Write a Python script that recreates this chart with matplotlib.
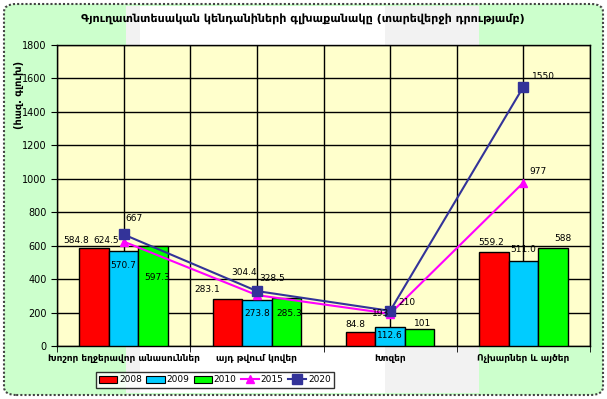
import matplotlib
matplotlib.use("Agg")
import matplotlib.pyplot as plt
from matplotlib.patches import FancyBboxPatch, Rectangle, Patch
from matplotlib.lines import Line2D
import numpy as np

title = "Գյուղատնտեսական կենդանիների գլխաքանակը (տարեվերջի դրությամբ)"
y_label = "(հազ. գլուխ)"
categories = ["Խոշոր եղջերավոր անասուններ", "այդ թվում կովեր", "Խոզեր", "Ոչխարներ և այծեր"]
bar_years = ["2008", "2009", "2010"]
v2008 = [584.8, 283.1, 84.8, 559.2]
v2009 = [570.7, 273.8, 112.6, 511.0]
v2010 = [597.3, 285.3, 101, 588]
line_years = ["2015", "2020"]
v2015 = [624.5, 304.4, 193, 977]
v2020 = [667, 328.5, 210, 1550]
lbl2008 = ["584.8", "283.1", "84.8", "559.2"]
lbl2009 = ["570.7", "273.8", "112.6", "511.0"]
lbl2010 = ["597.3", "285.3", "101", "588"]
lbl2015 = ["624.5", "304.4", "193", "977"]
lbl2020 = ["667", "328.5", "210", "1550"]

# label offsets in pixels (placed by hand in the original)
off2008 = [(-18, 8), (-20, 9), (-5, 7), (-3, 10)]
off2009 = [(0, -15), (0, -13), (0, -8), (0, 11)]
off2010 = [(4, -31), (3, -15), (3, 6), (10, 9)]
off2015 = [(-17, 1), (-13, 23), (-10, 0), (15, 11)]
off2020 = [(10, 16), (15, 13), (17, 8), (20, 10)]

bar_colors = ["#FF0000", "#00CCFF", "#00FF00"]
c2015 = "#FF00FF"
c2020 = "#333399"

fig = plt.figure(figsize=(6.07, 3.99), dpi=100)
fig.patch.set_facecolor("white")

# chart area background
bg = FancyBboxPatch((4 / 607, 4 / 399), 599 / 607, 391 / 399,
                    boxstyle="round,pad=0,rounding_size=0.02",
                    transform=fig.transFigure, facecolor="#CCFFCC",
                    edgecolor="#444444", linewidth=1.5, linestyle=(0, (1, 1)), zorder=-10)
fig.patches.append(bg)
fig.patches.append(Rectangle((126 / 607, 6 / 399), 353 / 607, 387 / 399,
                             transform=fig.transFigure, facecolor="#F2F2F2",
                             edgecolor="none", zorder=-9))
fig.patches.append(Rectangle((140 / 607, 6 / 399), 245 / 607, 387 / 399,
                             transform=fig.transFigure, facecolor="white",
                             edgecolor="none", zorder=-8))

ax = fig.add_axes([57 / 607, 1 - 346 / 399, 533 / 607, 301 / 399])
ax.set_facecolor("#FFFFCC")

x = np.arange(len(categories))
w = 0.222
series = [v2008, v2009, v2010]
labels = [lbl2008, lbl2009, lbl2010]
offsets = [off2008, off2009, off2010]
for i, vals in enumerate(series):
    bars = ax.bar(x + (i - 1) * w, vals, w, color=bar_colors[i],
                  edgecolor="black", linewidth=1, zorder=3, label=bar_years[i])
    for j, b in enumerate(bars):
        ax.annotate(labels[i][j], (b.get_x() + b.get_width() / 2, b.get_height()),
                    xytext=offsets[i][j], textcoords="offset pixels",
                    ha="center", va="center", fontsize=6.5, zorder=6)

ax.plot(x, v2015, color=c2015, marker="^", markersize=6, linewidth=1.5, zorder=4)
ax.plot(x, v2020, color=c2020, marker="s", markersize=7, linewidth=1.5, zorder=5)
for vals, lbls, offs in [(v2015, lbl2015, off2015), (v2020, lbl2020, off2020)]:
    for j in range(len(vals)):
        ax.annotate(lbls[j], (x[j], vals[j]), xytext=offs[j], textcoords="offset pixels",
                    ha="center", va="center", fontsize=6.5, zorder=6)

ax.set_xlim(-0.5, len(categories) - 0.5)
ax.set_ylim(0, 1800)
ax.set_yticks(range(0, 1801, 200))
ax.set_xticks(x)
ax.set_xticklabels(categories, fontsize=6.5, fontweight="bold")
ax.set_xticks(np.arange(-0.5, len(categories), 1), minor=True)
ax.tick_params(axis="x", which="major", length=0, pad=6)
ax.tick_params(axis="x", which="minor", length=4, direction="out")
ax.tick_params(axis="y", labelsize=7, length=4, direction="out")
ax.grid(True, which="both", color="black", linewidth=1, zorder=1)
ax.set_axisbelow(True)
for s in ax.spines.values():
    s.set_color("black")
    s.set_linewidth(1)

fig.text(303 / 607, 1 - 19 / 399, title, ha="center", va="center",
         fontsize=8, fontweight="bold")
fig.text(19 / 607, 1 - 95 / 399, y_label, rotation=90, ha="center", va="center",
         fontsize=7, fontweight="bold")

handles = [Patch(facecolor=c, edgecolor="black", linewidth=0.8) for c in bar_colors]
handles += [Line2D([], [], color=c2015, marker="^", markersize=6, linewidth=1.5),
            Line2D([], [], color=c2020, marker="s", markersize=7, linewidth=1.5)]
leg = fig.legend(handles, bar_years + line_years, loc="center",
                 bbox_to_anchor=(215 / 607, 1 - 380 / 399), ncol=5, fontsize=6.5,
                 frameon=True, fancybox=False, handlelength=2.0, handletextpad=0.2,
                 columnspacing=0.5, borderpad=0.4)
leg.get_frame().set_edgecolor("black")
leg.get_frame().set_linewidth(1)
leg.get_frame().set_facecolor("white")

fig.savefig("out.png", dpi=100)
